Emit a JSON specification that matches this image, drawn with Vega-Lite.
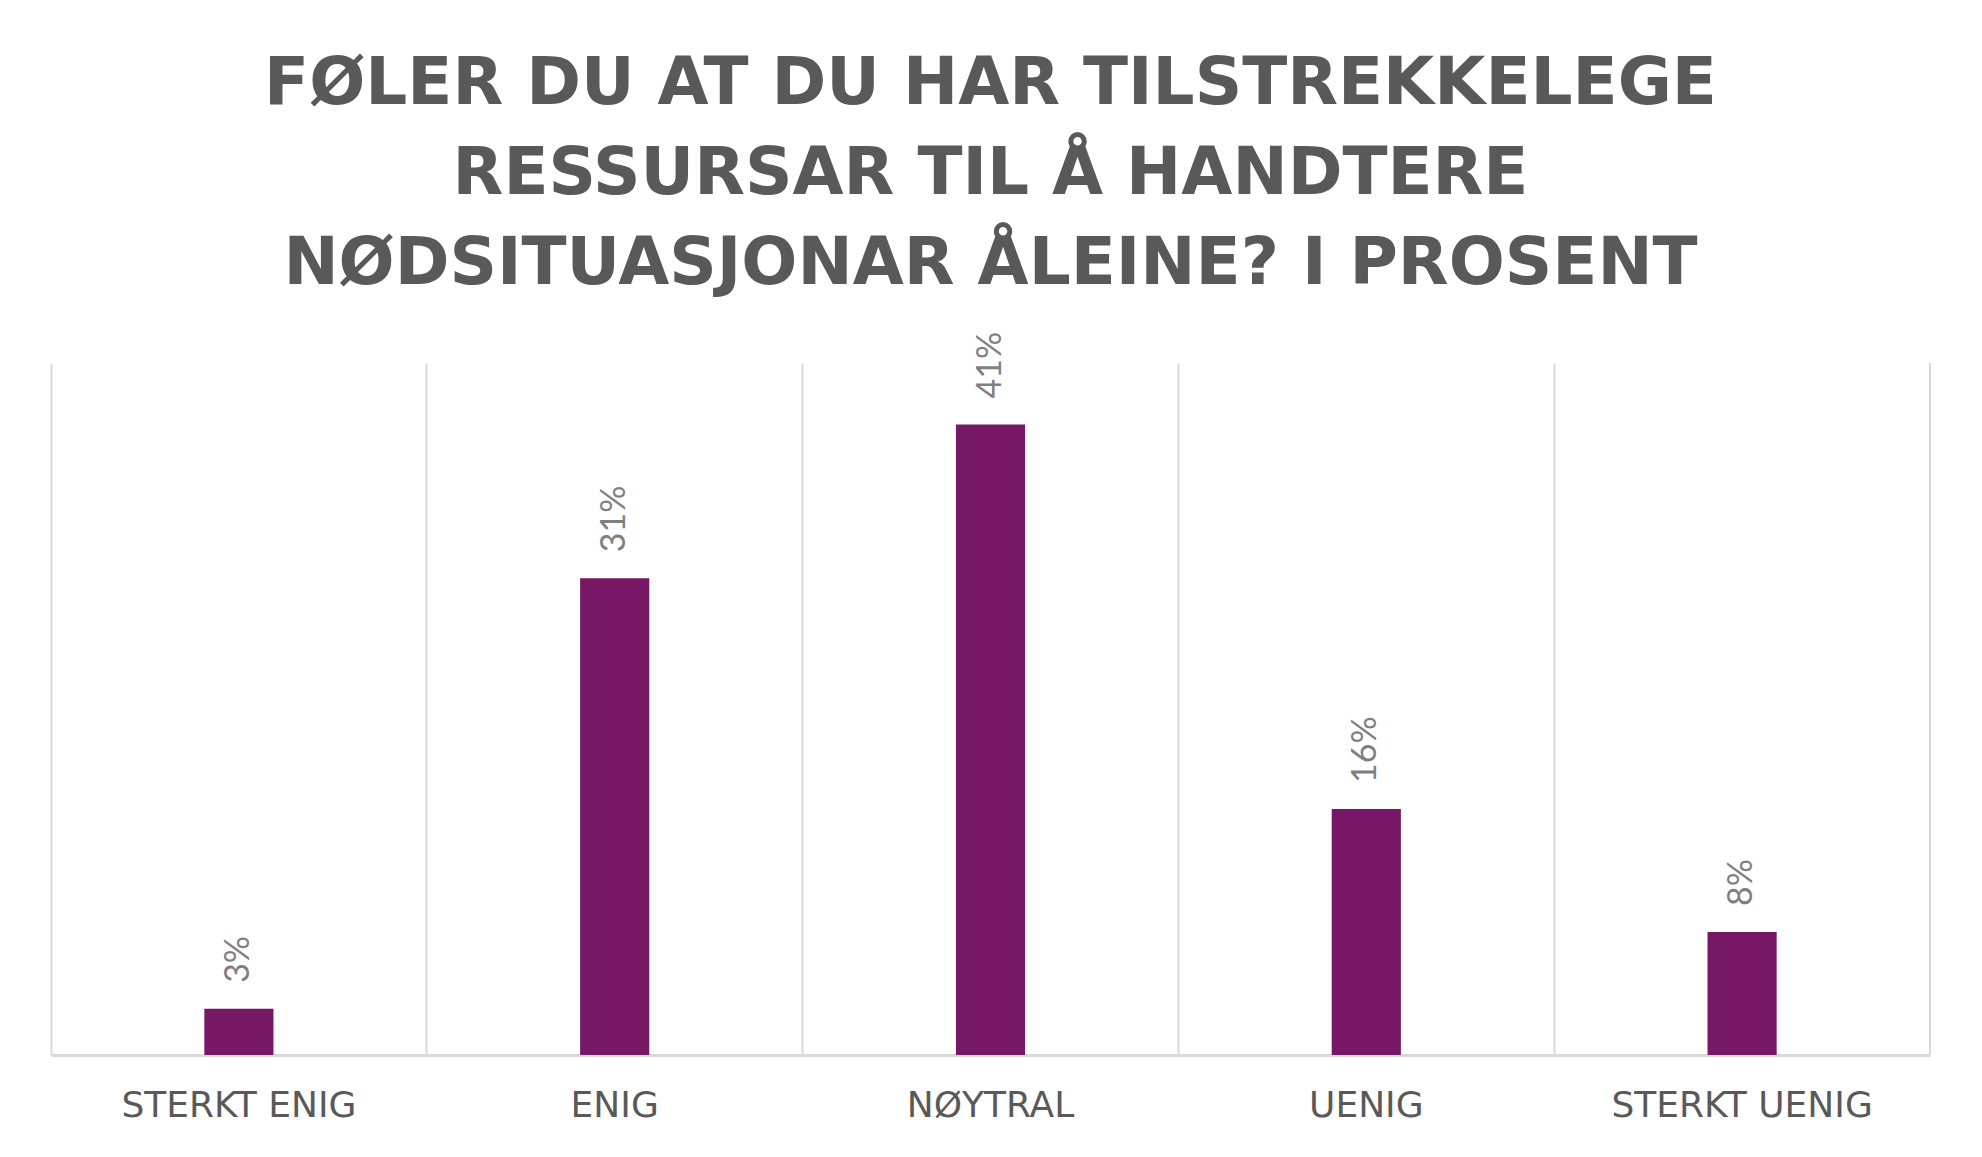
{
  "$schema": "https://vega.github.io/schema/vega-lite/v6.json",
  "autosize": {"type": "none"},
  "padding": {"left": 51, "top": 363, "right": 52, "bottom": 102},
  "width": 1879,
  "height": 692,
  "background": "#ffffff",
  "title": {
    "text": ["FØLER DU AT DU HAR TILSTREKKELEGE", "RESSURSAR TIL Å HANDTERE", "NØDSITUASJONAR ÅLEINE? I PROSENT"],
    "font": "DejaVu Sans",
    "fontSize": 66,
    "fontWeight": "bold",
    "color": "#595959",
    "lineHeight": 90,
    "anchor": "middle",
    "offset": 34
  },
  "data": {
    "values": [
      {"cat": "STERKT ENIG", "pct": 3, "label": "3%"},
      {"cat": "ENIG", "pct": 31, "label": "31%"},
      {"cat": "NØYTRAL", "pct": 41, "label": "41%"},
      {"cat": "UENIG", "pct": 16, "label": "16%"},
      {"cat": "STERKT UENIG", "pct": 8, "label": "8%"}
    ]
  },
  "encoding": {
    "x": {
      "field": "cat",
      "type": "nominal",
      "sort": ["STERKT ENIG", "ENIG", "NØYTRAL", "UENIG", "STERKT UENIG"],
      "scale": {"paddingInner": 0, "paddingOuter": 0},
      "axis": {
        "title": null,
        "labelAngle": 0,
        "labelFont": "DejaVu Sans",
        "labelFontSize": 36,
        "labelLimit": 0,
        "labelColor": "#595959",
        "labelPadding": 33,
        "ticks": false,
        "grid": true,
        "bandPosition": 0,
        "gridColor": "#d9d9d9",
        "gridWidth": 2,
        "domainColor": "#d9d9d9",
        "domainWidth": 3
      }
    }
  },
  "layer": [
    {
      "mark": {"type": "rule", "color": "#d9d9d9", "strokeWidth": 2},
      "transform": [{"filter": "datum.cat === 'STERKT UENIG'"}],
      "encoding": {
        "x": {"field": "cat", "type": "nominal", "sort": ["STERKT ENIG", "ENIG", "NØYTRAL", "UENIG", "STERKT UENIG"], "bandPosition": 1}
      }
    },
    {
      "mark": {"type": "bar", "color": "#761866", "width": {"band": 0.184}},
      "encoding": {
        "y": {"field": "pct", "type": "quantitative", "scale": {"domain": [0, 45]}, "axis": null}
      }
    },
    {
      "mark": {"type": "text", "angle": -90, "align": "left", "baseline": "middle", "dx": 26, "font": "Lato", "fontSize": 34, "color": "#7f7f7f"},
      "encoding": {
        "y": {"field": "pct", "type": "quantitative", "scale": {"domain": [0, 45]}},
        "text": {"field": "label"}
      }
    }
  ],
  "config": {"view": {"stroke": null}}
}
